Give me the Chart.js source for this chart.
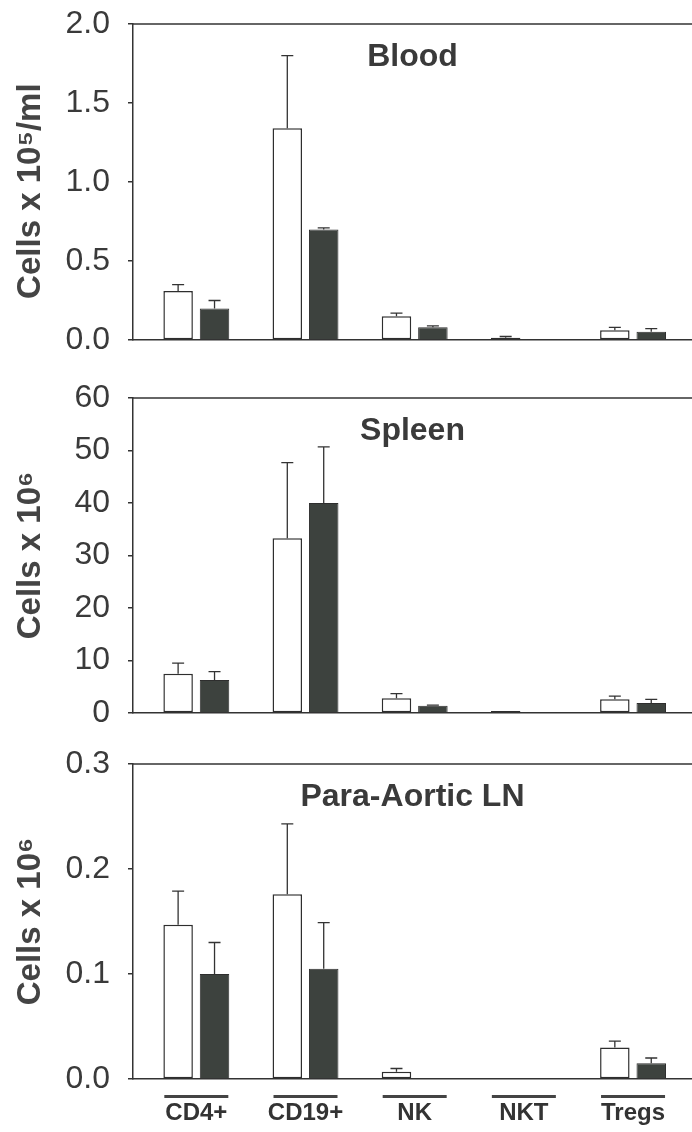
<!DOCTYPE html>
<html>
<head>
<meta charset="utf-8">
<script src="https://cdn.jsdelivr.net/npm/chart.js@4"></script>
<style>
html, body { margin: 0; padding: 0; background: #fff; }
.panel { position: absolute; left: 0; width: 692px; }
</style>
</head>
<body>
<div class="panel" style="top:0px;height:370px"><canvas id="blood" width="692" height="370"></canvas></div>
<div class="panel" style="top:370px;height:370px"><canvas id="spleen" width="692" height="370"></canvas></div>
<div class="panel" style="top:740px;height:392px"><canvas id="ln" width="692" height="392"></canvas></div>
<script>
const categories = ['CD4+', 'CD19+', 'NK', 'NKT', 'Tregs'];

// Blood (cells x 10^5/ml)
const bloodWhite = [0.31, 1.34, 0.15, 0.015, 0.062];
const bloodWhiteSem = [0.04, 0.46, 0.02, 0.007, 0.018];
const bloodDark = [0.20, 0.70, 0.08, 0.006, 0.052];
const bloodDarkSem = [0.05, 0.01, 0.01, 0, 0.02];

// Spleen (cells x 10^6)
const spleenWhite = [7.5, 33.3, 2.8, 0.4, 2.6];
const spleenWhiteSem = [2.0, 14.4, 0.9, 0, 0.6];
const spleenDark = [6.3, 40.0, 1.4, 0.2, 1.9];
const spleenDarkSem = [1.6, 10.7, 0.1, 0, 0.7];

// Para-aortic LN (cells x 10^6)
const lnWhite = [0.147, 0.176, 0.007, 0, 0.030];
const lnWhiteSem = [0.032, 0.067, 0.003, 0, 0.006];
const lnDark = [0.100, 0.105, 0, 0, 0.015];
const lnDarkSem = [0.030, 0.044, 0, 0, 0.005];

const FONT = '"Liberation Sans", Arial, Helvetica, sans-serif';
const X_MIN = -0.58, X_MAX = 4.54;

const panelDecor = {
  id: 'panelDecor',
  afterDatasetsDraw(chart) {
    const {ctx, scales} = chart;
    ctx.save();
    ctx.strokeStyle = '#333';
    ctx.lineWidth = 1.3;
    chart.data.datasets.forEach((ds, di) => {
      const meta = chart.getDatasetMeta(di);
      meta.data.forEach((bar, i) => {
        const sem = ds.sem[i];
        if (!sem) return;
        const yTop = scales.y.getPixelForValue(ds.data[i].y + sem);
        ctx.beginPath();
        ctx.moveTo(bar.x, bar.y);
        ctx.lineTo(bar.x, yTop);
        ctx.moveTo(bar.x - 6, yTop);
        ctx.lineTo(bar.x + 6, yTop);
        ctx.stroke();
      });
    });
    ctx.restore();
  },
  afterDraw(chart, args, opts) {
    const {ctx, chartArea, scales} = chart;
    ctx.save();
    // top frame line
    ctx.strokeStyle = '#333';
    ctx.lineWidth = 1.5;
    ctx.beginPath();
    ctx.moveTo(chartArea.left, chartArea.top);
    ctx.lineTo(chartArea.right, chartArea.top);
    ctx.stroke();
    // panel title
    ctx.fillStyle = '#3a3a3a';
    ctx.font = 'bold 32px ' + FONT;
    ctx.textAlign = 'center';
    ctx.textBaseline = 'middle';
    ctx.fillText(opts.title, (chartArea.left + chartArea.right) / 2, chartArea.top + 33);
    // bars over category labels
    if (opts.overbar) {
      ctx.fillStyle = '#444';
      categories.forEach((c, i) => {
        const x = scales.x.getPixelForValue(i);
        ctx.fillRect(x - 32, chartArea.bottom + 16, 64, 3);
      });
    }
    ctx.restore();
  }
};

function makePanel(id, cfg) {
  const ctx = document.getElementById(id).getContext('2d');
  return new Chart(ctx, {
    type: 'bar',
    data: {
      datasets: [{
        data: categories.map((c, i) => ({x: i, y: cfg.white[i]})),
        sem: cfg.whiteSem,
        backgroundColor: '#ffffff',
        borderColor: '#2e2e2e',
        borderWidth: 1.5,
        borderSkipped: false
      }, {
        data: categories.map((c, i) => ({x: i, y: cfg.dark[i]})),
        sem: cfg.darkSem,
        backgroundColor: '#3d423e',
        borderColor: '#2e2e2e',
        borderWidth: 1,
        borderSkipped: 'start'
      }]
    },
    options: {
      responsive: false,
      animation: false,
      categoryPercentage: 0.667,
      barPercentage: 0.81,
      layout: {padding: {top: cfg.padTop, bottom: cfg.padBottom, left: 0, right: 0}},
      plugins: {
        legend: {display: false},
        tooltip: {enabled: false},
        panelDecor: {title: cfg.title, overbar: cfg.labels}
      },
      scales: {
        x: {
          type: 'linear',
          offset: false,
          bounds: 'data',
          min: X_MIN,
          max: X_MAX,
          afterBuildTicks: s => {
            s.ticks = categories.map((c, i) => ({value: i}));
            s.min = X_MIN;
            s.max = X_MAX;
          },
          afterFit: s => {
            s.height = cfg.labels ? 53 : 0;
            s.paddingLeft = 0;
            s.paddingRight = 0;
          },
          grid: {display: false, drawTicks: false, offset: false},
          border: {display: true, color: '#333', width: 1.5},
          ticks: {
            display: cfg.labels,
            padding: 20,
            color: '#333',
            font: {family: FONT, size: 24, weight: 'bold'},
            callback: v => categories[v]
          }
        },
        y: {
          min: 0,
          max: cfg.max,
          afterFit: s => {
            s.width = 133;
            s.paddingTop = 0;
            s.paddingBottom = 0;
          },
          grid: {drawOnChartArea: false, drawTicks: true, tickLength: 5, color: '#333', lineWidth: 1.5},
          border: {color: '#333', width: 1.5},
          ticks: {
            stepSize: cfg.step,
            padding: 18,
            color: '#3a3a3a',
            font: {family: FONT, size: 32},
            callback: v => v.toFixed(cfg.dec)
          },
          title: {
            display: true,
            text: cfg.yTitle,
            color: '#444',
            font: {family: FONT, size: 33, weight: 'bold'},
            padding: {top: 11, bottom: 0}
          }
        }
      }
    },
    plugins: [panelDecor]
  });
}

makePanel('blood', {
  title: 'Blood', yTitle: 'Cells x 10\u2075/ml  ',
  white: bloodWhite, whiteSem: bloodWhiteSem, dark: bloodDark, darkSem: bloodDarkSem,
  max: 2.0, step: 0.5, dec: 1, padTop: 24, padBottom: 30, labels: false
});
makePanel('spleen', {
  title: 'Spleen', yTitle: 'Cells x 10\u2076',
  white: spleenWhite, whiteSem: spleenWhiteSem, dark: spleenDark, darkSem: spleenDarkSem,
  max: 60, step: 10, dec: 0, padTop: 28, padBottom: 27, labels: false
});
makePanel('ln', {
  title: 'Para-Aortic LN', yTitle: 'Cells x 10\u2076',
  white: lnWhite, whiteSem: lnWhiteSem, dark: lnDark, darkSem: lnDarkSem,
  max: 0.3, step: 0.1, dec: 1, padTop: 24, padBottom: 0, labels: true
});
</script>
</body>
</html>
